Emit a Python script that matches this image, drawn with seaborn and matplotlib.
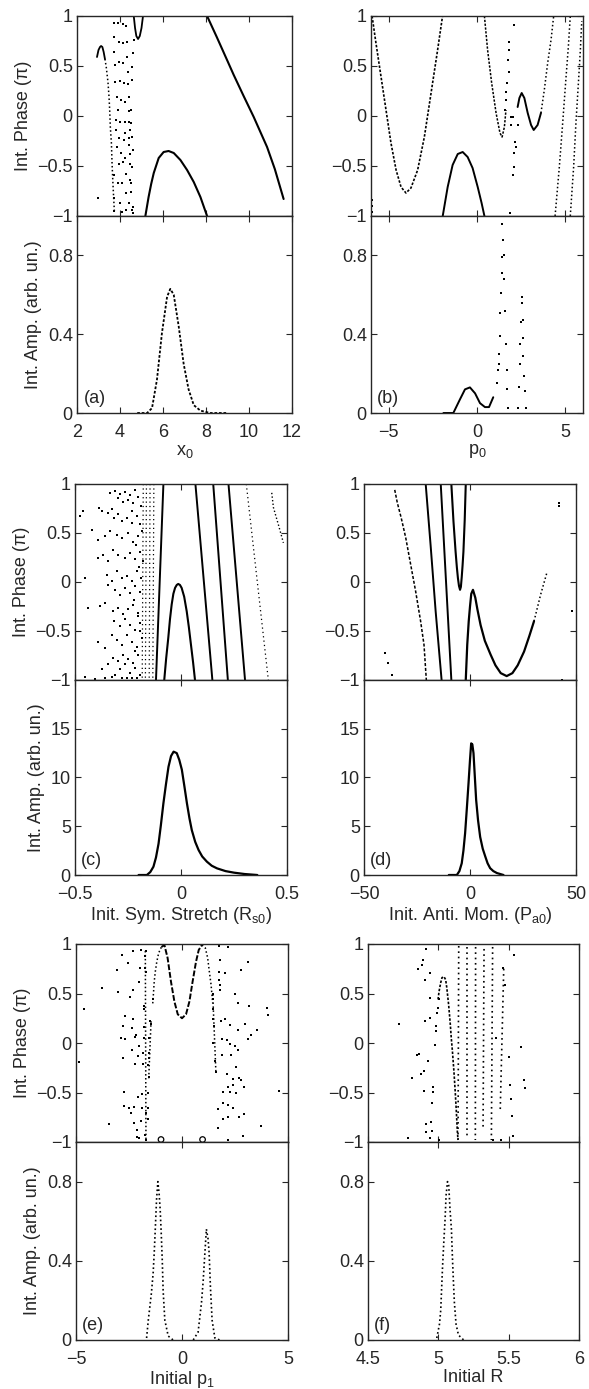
import matplotlib
matplotlib.use("Agg")
import matplotlib.pyplot as plt
import seaborn as sns

sns.set_style("ticks")
plt.rcParams["font.family"] = ["Liberation Sans", "DejaVu Sans"]
plt.rcParams["mathtext.fontset"] = "custom"
plt.rcParams["mathtext.rm"] = "Liberation Sans"
plt.rcParams["mathtext.it"] = "Liberation Sans:italic"
plt.rcParams["axes.linewidth"] = 1.0

# ---------------- (a) x0 ----------------
a_hump_x = [2.93, 3.00, 3.07, 3.12, 3.18, 3.24, 3.30, 3.36, 3.44, 3.49, 3.52, 3.55, 3.60, 3.63, 3.67, 3.71, 3.74]
a_hump_y = [0.59, 0.66, 0.69, 0.70, 0.69, 0.64, 0.57, 0.49, 0.34, 0.19, 0.06, -0.11, -0.27, -0.47, -0.67, -0.84, -0.96]
a_dip_x = [4.64, 4.70, 4.76, 4.84, 4.92, 5.00, 5.07]
a_dip_y = [1.00, 0.88, 0.80, 0.77, 0.80, 0.88, 1.00]
a_arc_x = [5.18, 5.33, 5.45, 5.57, 5.80, 6.03, 6.26, 6.50, 6.81, 7.12, 7.43, 7.74, 8.05]
a_arc_y = [-1.0, -0.81, -0.68, -0.57, -0.42, -0.36, -0.35, -0.37, -0.44, -0.54, -0.66, -0.81, -1.0]
a_line_x = [8.05, 8.50, 9.00, 9.29, 9.75, 10.22, 10.84, 11.20, 11.61]
a_line_y = [1.0, 0.79, 0.55, 0.41, 0.20, -0.01, -0.31, -0.53, -0.83]
a_dots_x = [3.71, 3.89, 4.14, 4.29, 3.74, 3.94, 4.12, 4.33, 3.74, 4.33, 3.94, 4.12, 3.78, 4.36,
            3.78, 3.98, 4.17, 4.37, 3.86, 4.03, 4.22, 4.40, 3.89, 4.40, 3.83, 4.02, 4.22, 4.40,
            3.83, 4.22, 4.45, 3.94, 4.17, 4.40, 3.86, 4.40, 4.06, 4.25, 4.48, 3.94, 4.14, 4.48,
            4.29, 3.71, 3.89, 4.09, 4.48, 4.29, 4.51, 3.74, 4.02, 4.40, 4.29, 4.56, 3.71, 4.09,
            4.60, 4.67, 4.60, 4.56, 4.56, 4.53, 4.51, 4.56, 4.60, 4.56, 4.51, 4.60, 2.96]
a_dots_y = [0.93, 0.93, 0.92, 0.90, 0.79, 0.74, 0.73, 0.74, 0.64, 0.59, 0.54, 0.53, 0.51, 0.44,
            0.34, 0.35, 0.33, 0.32, 0.19, 0.16, 0.14, 0.19, 0.06, 0.05, -0.04, -0.06, -0.06, -0.06,
            -0.14, -0.17, -0.14, -0.22, -0.24, -0.22, -0.31, -0.29, -0.37, -0.42, -0.38, -0.48, -0.46, -0.48,
            -0.58, -0.59, -0.67, -0.67, -0.64, -0.77, -0.76, -0.82, -0.87, -0.87, -0.94, -0.94, -0.95, -0.96,
            -0.97, 0.76, 0.63, 0.49, 0.36, 0.06, -0.07, -0.21, -0.34, -0.51, -0.67, -0.91, -0.82]
a_amp_x = [4.8, 5.26, 5.49, 5.72, 5.95, 6.19, 6.34, 6.50, 6.73, 6.96, 7.19, 7.43, 7.74, 8.2, 9.0]
a_amp_y = [0, 0, 0.025, 0.17, 0.405, 0.59, 0.63, 0.60, 0.44, 0.25, 0.12, 0.04, 0.012, 0, 0]

# ---------------- (b) p0 ----------------
b_u_x = [-5.94, -5.72, -5.43, -5.15, -4.87, -4.58, -4.30, -4.02, -3.74, -3.36, -2.98, -2.60, -2.23, -1.95]
b_u_y = [1.0, 0.73, 0.39, 0.06, -0.27, -0.54, -0.71, -0.77, -0.72, -0.54, -0.21, 0.23, 0.66, 1.0]
b_hump_x = [-1.94, -1.66, -1.38, -1.09, -0.81, -0.53, -0.25, 0.04, 0.26, 0.42]
b_hump_y = [-1.0, -0.71, -0.49, -0.38, -0.36, -0.41, -0.52, -0.71, -0.87, -1.0]
b_v_x = [0.42, 0.60, 0.83, 1.08, 1.30, 1.42, 1.55, 1.64]
b_v_y = [1.0, 0.66, 0.33, 0.03, -0.17, -0.21, -0.11, 0.06]
b_w_x = [2.30, 2.40, 2.53, 2.68, 2.87, 3.06, 3.21, 3.43, 3.62, 3.81, 4.00, 4.19, 4.34]
b_w_y = [0.09, 0.18, 0.23, 0.18, 0.03, -0.09, -0.14, -0.09, 0.03, 0.26, 0.53, 0.76, 1.0]
b_l2_x = [4.42, 4.66, 4.85, 5.04, 5.17, 5.28]
b_l2_y = [-1.0, -0.51, -0.07, 0.39, 0.69, 1.0]
b_l3_x = [5.28, 5.47, 5.60, 5.74, 5.85, 5.93]
b_l3_y = [-1.0, -0.51, -0.07, 0.33, 0.66, 0.95]
b_dots_x = [2.11, 1.79, 1.83, 1.74, 1.79, 1.70, 1.64, 1.62, 1.60, 1.92, 2.02, 1.92, 2.17, 2.21,
            2.11, 2.08, 2.06, 1.89, 2.30, -5.96, -5.96, -5.95]
b_dots_y = [0.91, 0.74, 0.66, 0.56, 0.44, 0.33, 0.24, 0.16, 0.06, -0.01, -0.01, -0.09, -0.26, -0.31,
            -0.37, -0.51, -0.59, -0.97, -0.09, -0.84, -0.90, -0.96]
b_amp_x = [-1.9, -1.34, -0.96, -0.68, -0.40, -0.11, 0.17, 0.45, 0.68, 0.92]
b_amp_y = [0, 0, 0.07, 0.12, 0.13, 0.10, 0.05, 0.03, 0.03, 0.08]
b_spk_x = [1.11, 1.20, 1.24, 1.26, 1.30, 1.33, 1.35, 1.39, 1.43, 1.45, 1.43, 1.52, 1.54, 1.58, 1.62,
           1.67, 1.71, 1.73, 2.33, 2.39, 2.43, 2.46, 2.48, 2.52, 2.56, 2.58, 2.61, 2.63, 2.67, 2.71, 2.75]
b_spk_y = [0.15, 0.22, 0.25, 0.30, 0.39, 0.51, 0.61, 0.71, 0.79, 0.88, 0.96, 0.80, 0.68, 0.52, 0.35,
           0.22, 0.12, 0.025, 0.025, 0.13, 0.25, 0.35, 0.46, 0.59, 0.56, 0.47, 0.38, 0.29, 0.19, 0.11, 0.025]

# ---------------- (c) Rs0 ----------------
c_arc_x = [-0.079, -0.07, -0.06, -0.052, -0.044, -0.036, -0.028, -0.02, -0.013, -0.005, 0.003,
           0.015, 0.027, 0.037, 0.047, 0.057, 0.066]
c_arc_y = [-1.0, -0.78, -0.57, -0.38, -0.23, -0.12, -0.06, -0.03, -0.02, -0.03, -0.06,
           -0.15, -0.30, -0.46, -0.64, -0.82, -1.0]
# straight branches: x at phase = 1, x at phase = -1
c_solid_top = [-0.083, 0.068, 0.152, 0.224]
c_solid_bot = [-0.118, 0.148, 0.221, 0.302]
c_dash_top = [-0.178, -0.163, -0.146, -0.128, 0.308]
c_dash_bot = [-0.183, -0.168, -0.150, -0.133, 0.412]
c_tail_x = [0.428, 0.436, 0.46, 0.483]
c_tail_y = [0.91, 0.76, 0.58, 0.40]
c_dots_x = [-0.335, -0.311, -0.288, -0.264, -0.241, -0.217, -0.201, -0.296, -0.272, -0.248, -0.225,
            -0.476, -0.461, -0.421, -0.387, -0.374, -0.343, -0.327, -0.314, -0.296, -0.277, -0.256, -0.233, -0.209, -0.193,
            -0.39, -0.358, -0.335, -0.303, -0.28, -0.248, -0.225, -0.201, -0.186,
            -0.393, -0.366, -0.343, -0.319, -0.296, -0.264, -0.241, -0.217, -0.193, -0.178,
            -0.453, -0.351, -0.327, -0.303, -0.28, -0.256, -0.233, -0.209, -0.189,
            -0.343, -0.311, -0.288, -0.264, -0.241, -0.217, -0.193,
            -0.437, -0.382, -0.358, -0.319, -0.296, -0.272, -0.248, -0.225, -0.201,
            -0.314, -0.288, -0.264, -0.241, -0.217, -0.193,
            -0.39, -0.358, -0.327, -0.303, -0.28, -0.256, -0.233, -0.209, -0.186,
            -0.319, -0.296, -0.272, -0.248, -0.225, -0.201,
            -0.374, -0.343, -0.311, -0.288, -0.264, -0.241, -0.217, -0.193,
            -0.453, -0.406, -0.358, -0.327, -0.28, -0.256, -0.233, -0.209,
            -0.23, -0.21, -0.2, -0.22, -0.205, -0.195, -0.215, -0.19]
c_dots_y = [0.91, 0.93, 0.90, 0.92, 0.89, 0.94, 0.87, 0.86, 0.82, 0.84, 0.81,
            0.67, 0.72, 0.53, 0.76, 0.72, 0.70, 0.74, 0.65, 0.69, 0.62, 0.65, 0.72, 0.67, 0.59,
            0.43, 0.47, 0.52, 0.48, 0.45, 0.50, 0.41, 0.47, 0.52,
            0.24, 0.28, 0.21, 0.33, 0.28, 0.24, 0.30, 0.23, 0.31, 0.21,
            0.04, 0.07, 0.01, 0.11, 0.04, 0.06, 0.01, 0.11, 0.04,
            -0.03, -0.08, -0.13, -0.06, -0.11, -0.04, -0.10,
            -0.27, -0.25, -0.21, -0.30, -0.27, -0.33, -0.28, -0.23, -0.32,
            -0.40, -0.45, -0.38, -0.44, -0.49, -0.42,
            -0.61, -0.67, -0.54, -0.59, -0.64, -0.54, -0.61, -0.66, -0.57,
            -0.78, -0.81, -0.74, -0.79, -0.83, -0.74,
            -0.89, -0.84, -0.95, -0.89, -0.84, -0.93, -0.88, -0.95,
            -0.97, -0.99, -0.98, -0.97, -0.98, -0.98, -0.98, -0.98,
            0.60, 0.38, 0.15, -0.18, -0.35, -0.50, -0.70, 0.78]
c_amp_x = [-0.2, -0.161, -0.145, -0.13, -0.118, -0.106, -0.095, -0.083, -0.071, -0.059, -0.047, -0.035,
           -0.02, -0.008, 0.004, 0.016, 0.028, 0.04, 0.051, 0.067, 0.083, 0.10, 0.122, 0.145, 0.17,
           0.21, 0.25, 0.30, 0.36]
c_amp_y = [0, 0, 0.3, 0.85, 1.8, 3.2, 5.1, 7.35, 9.3, 11.1, 12.2, 12.65,
           12.5, 11.8, 10.8, 9.1, 7.35, 5.8, 4.6, 3.4, 2.56, 1.9, 1.37, 0.95, 0.68,
           0.4, 0.24, 0.1, 0]

# ---------------- (d) Pa0 ----------------
d_l1_x = [-35.5, -34.3, -32.4, -30.3, -28.0, -25.6, -23.3, -21.7, -20.6]
d_l1_y = [0.94, 0.81, 0.65, 0.45, 0.18, -0.10, -0.40, -0.64, -1.0]
d_l2_x = [-20.9, -18.6, -16.2, -13.4]
d_l2_y = [1.0, 0.38, -0.30, -1.0]
d_l3_x = [-13.8, -11.3, -8.8]
d_l3_y = [1.0, 0.0, -1.0]
d_v_x = [-8.8, -7.8, -6.8, -6.2, -5.7, -5.2, -4.7, -4.3, -3.9, -3.5, -3.1, -2.5, -2.0]
d_v_y = [1.0, 0.62, 0.31, 0.15, 0.04, -0.04, -0.08, -0.05, 0.05, 0.17, 0.31, 0.63, 1.0]
d_hump_x = [-2.0, -1.3, -0.6, 0.0, 0.6, 1.4, 2.5, 3.5, 5.0, 7.0, 9.7, 12.0, 14.5, 17.3, 20.0,
            22.5, 25.5, 28.0, 30.2]
d_hump_y = [-1.0, -0.64, -0.40, -0.25, -0.12, -0.08, -0.16, -0.28, -0.44, -0.60, -0.74, -0.85, -0.93,
            -0.96, -0.93, -0.85, -0.71, -0.55, -0.40]
d_tail_x = [30.2, 33.3, 36.2]
d_tail_y = [-0.40, -0.13, 0.09]
d_dots_x = [42.0, 42.0, -40.3, -38.7, -36.6, 43.6, 48.3]
d_dots_y = [0.81, 0.78, -0.72, -0.83, -0.95, -1.0, -0.30]
d_amp_x = [-10, -6.2, -5.0, -3.9, -3.1, -2.3, -1.5, -0.7, 0.0, 0.55, 1.1, 1.65, 2.3, 2.9, 3.8, 4.8,
           6.0, 7.2, 8.3, 9.5, 11.0, 12.7, 15.8]
d_amp_y = [0, 0, 0.4, 1.2, 2.5, 4.3, 6.8, 9.4, 11.8, 13.5, 13.4, 12.5, 10.0, 7.7, 5.6, 3.9,
           2.7, 1.9, 1.2, 0.7, 0.4, 0.2, 0]

# ---------------- (e) p1 ----------------
e_curve_x = [-1.38, -1.35, -1.31, -1.26, -1.19, -1.10, -0.97, -0.83, -0.68, -0.52, -0.36, -0.20, 0.0,
             0.19, 0.35, 0.50, 0.66, 0.79, 0.94, 1.10, 1.21, 1.29, 1.37, 1.45]
e_curve_y = [0.40, 0.49, 0.62, 0.72, 0.82, 0.91, 0.97, 0.99, 0.86, 0.62, 0.42, 0.29, 0.25,
             0.29, 0.42, 0.62, 0.82, 0.94, 0.99, 0.96, 0.86, 0.72, 0.59, 0.40]
e_ring_x = [-0.99, 0.97]
e_ring_y = [-0.975, -0.975]
e_col_top = [(-1.73, 0.93), (-1.46, 0.22), (1.45, 0.49)]
e_col_bot = [(-1.70, -0.98), (-1.57, -0.36), (1.60, -0.30)]
e_dots_x = [-2.83, -2.30, -1.93, -1.70, -1.73, -2.56, -3.08, -1.98, -1.73, -1.70, -2.01, -3.77, -3.03,
            -2.33, -2.45, -1.38, -4.61, -1.78, -1.78, -2.67, -2.33, -1.51, -2.80, -2.36, -1.78, -1.46,
            -2.17, -2.20, -2.88, -2.67, -1.78, -1.54, -2.36, -2.04, -1.86, -1.54, -2.80, -2.09, -1.54,
            -4.87, -2.20, -1.86, -1.62, -1.57, -2.72, -2.09, -1.89, -1.62, -2.72, -2.48, -2.41, -2.25,
            -1.89, -1.62, -1.70, -3.43, -2.25, -1.93, -1.62, -2.14, -2.14, -2.01, -1.73, -1.70,
            1.76, 2.15, 1.79, 3.13, 2.78, 1.76, 2.03, 1.76, 1.79, 1.79, 2.50, 1.45, 1.45, 2.63, 3.14,
            3.99, 4.07, 1.48, 1.84, 2.03, 2.26, 2.63, 2.97, 3.54, 1.48, 1.53, 3.25, 3.10, 1.87, 2.11,
            2.26, 1.48, 2.52, 2.64, 1.89, 2.33, 1.57, 2.55, 2.12, 2.39, 2.67, 2.78, 1.60, 2.42, 2.92,
            1.92, 2.15, 2.26, 2.55, 4.56, 1.95, 2.15, 2.42, 1.68, 2.94, 1.95, 2.15, 2.67, 1.71, 3.73,
            2.86, 2.15]
e_dots_y = [0.89, 0.93, 0.94, 0.93, 0.88, 0.81, 0.74, 0.76, 0.76, 0.72, 0.62, 0.56, 0.52,
            0.54, 0.46, 0.44, 0.34, 0.37, 0.34, 0.27, 0.24, 0.22, 0.17, 0.15, 0.16, 0.19,
            0.08, 0.06, 0.05, 0.04, 0.05, 0.05, -0.07, -0.03, -0.10, -0.10, -0.15, -0.13, -0.15,
            -0.19, -0.21, -0.21, -0.22, -0.34, -0.49, -0.55, -0.52, -0.51, -0.64, -0.66, -0.71, -0.65,
            -0.66, -0.66, -0.71, -0.82, -0.81, -0.79, -0.77, -0.88, -0.95, -0.96, -0.93, -0.98,
            0.98, 0.97, 0.84, 0.82, 0.74, 0.72, 0.71, 0.64, 0.59, 0.54, 0.49, 0.49, 0.44, 0.40, 0.37,
            0.35, 0.28, 0.34, 0.22, 0.24, 0.18, 0.13, 0.19, 0.13, 0.24, 0.17, 0.08, 0.04, 0.04, 0.03,
            -0.01, 0.0, -0.03, -0.07, -0.12, -0.12, -0.18, -0.24, -0.31, -0.36, -0.35, -0.37, -0.29, -0.42, -0.44,
            -0.49, -0.44, -0.49, -0.50, -0.48, -0.61, -0.63, -0.66, -0.67, -0.72, -0.77, -0.75, -0.75, -0.86, -0.84,
            -0.94, -0.98]
e_amp1_x = [-1.67, -1.59, -1.44, -1.36, -1.31, -1.26, -1.20, -1.14, -1.08, -1.03, -0.98, -0.93, -0.89, -0.81, -0.65, -0.42]
e_amp1_y = [0.01, 0.10, 0.24, 0.34, 0.44, 0.56, 0.71, 0.80, 0.74, 0.66, 0.54, 0.40, 0.25, 0.10, 0.02, 0]
e_amp2_x = [0.53, 0.76, 0.92, 1.0, 1.08, 1.15, 1.23, 1.28, 1.34, 1.42, 1.55, 1.78]
e_amp2_y = [0, 0.04, 0.19, 0.30, 0.44, 0.56, 0.51, 0.44, 0.27, 0.10, 0.01, 0]

# ---------------- (f) R ----------------
f_hump_x = [4.998, 5.005, 5.017, 5.026, 5.04, 5.052, 5.06, 5.073, 5.085, 5.092, 5.10, 5.111, 5.12, 5.128, 5.135, 5.14]
f_hump_y = [0.44, 0.52, 0.61, 0.66, 0.67, 0.64, 0.56, 0.39, 0.19, 0.05, -0.08, -0.29, -0.49, -0.69, -0.89, -0.98]
f_col_top = [(5.145, 0.98), (5.206, 0.97), (5.265, 0.97), (5.325, 0.95), (5.386, 0.97), (5.465, 0.75)]
f_col_bot = [(5.140, -0.98), (5.206, -0.96), (5.263, -0.98), (5.318, -0.85), (5.377, -0.98), (5.440, -0.68)]
f_dots_x = [4.915, 4.891, 4.884, 4.855, 4.943, 4.908, 4.938, 4.998, 4.938, 4.903, 4.718, 4.986, 4.986,
            4.974, 5.59, 4.86, 4.851, 4.927, 5.50, 4.813, 4.874, 4.898, 4.962, 4.898, 4.964, 4.955,
            4.915, 4.95, 4.915, 4.955, 4.784, 4.938, 5.005, 5.536, 5.46, 5.472, 5.412, 5.507, 5.519,
            5.524, 5.609, 5.614, 5.389, 5.448, 5.531, 5.005, 4.99]
f_dots_y = [0.95, 0.84, 0.79, 0.75, 0.71, 0.64, 0.45, 0.35, 0.25, 0.22, 0.19, 0.17, 0.12,
            -0.02, -0.04, -0.11, -0.12, -0.18, -0.14, -0.35, -0.31, -0.28, -0.44, -0.48, -0.49, -0.61,
            -0.82, -0.80, -0.90, -0.89, -0.96, -0.96, -0.98, 0.89, 0.76, 0.59, 0.05, -0.42, -0.57,
            -0.74, -0.37, -0.45, -0.98, -0.98, -0.94, 0.44, 0.30]
f_amp_x = [4.989, 5.008, 5.017, 5.024, 5.03, 5.04, 5.048, 5.055, 5.065, 5.074, 5.083, 5.093, 5.10, 5.107, 5.114, 5.126, 5.143, 5.18]
f_amp_y = [0.01, 0.08, 0.15, 0.27, 0.37, 0.51, 0.61, 0.73, 0.80, 0.78, 0.66, 0.56, 0.42, 0.30, 0.19, 0.08, 0.025, 0]

# ---------------- layout (pixels) ----------------
W, H = 589, 1389
rows = [(16, 216, 413), (484, 680, 875), (944, 1142, 1340)]
cols = [((77, 292), (371, 583)), ((75, 287), (364, 576)), ((76, 288), (368, 579))]
DOT = (0, (1, 1.6))
FS = 13

fig = plt.figure(figsize=(W / 100, H / 100), dpi=100)


def box(x0, x1, y0, y1):
    return [x0 / W, 1 - y1 / H, (x1 - x0) / W, (y1 - y0) / H]


def pair(r, c):
    top, mid, bot = rows[r]
    x0, x1 = cols[r][c]
    ph = fig.add_axes(box(x0, x1, top, mid))
    amp = fig.add_axes(box(x0, x1, mid, bot))
    return ph, amp


def curve(ax, x, y, lw=1.5, ls="-"):
    sns.lineplot(x=x, y=y, ax=ax, sort=False, estimator=None, errorbar=None,
                 color="k", lw=lw, linestyle=ls, legend=False)


def dots(ax, x, y, s=4):
    sns.scatterplot(x=x, y=y, ax=ax, color="k", s=s, marker="s", linewidth=0, legend=False)


def columns(ax, tops, bots, lw=1.1, ls=DOT):
    for (xt, yt), (xb, yb) in zip(tops, bots):
        curve(ax, [xt, xb], [yt, yb], lw=lw, ls=ls)


def finish(ph, amp, xlim, xticks, ylim, yticks, xlabel, tag, left):
    for ax in (ph, amp):
        ax.set_xlim(*xlim)
        ax.set_xticks(xticks)
        ax.tick_params(direction="in", top=True, right=True, length=4, width=0.8,
                       labelsize=FS, pad=3)
        for sp in ax.spines.values():
            sp.set_linewidth(1.0)
        ax.set_xlabel("")
        ax.set_ylabel("")
    ph.set_ylim(-1, 1)
    ph.set_yticks([-1, -0.5, 0, 0.5, 1])
    ph.set_yticklabels(["\u22121", "\u22120.5", "0", "0.5", "1"])
    ph.tick_params(labelbottom=False)
    amp.set_ylim(*ylim)
    amp.set_yticks(yticks)
    amp.set_yticklabels([f"{t:g}" for t in yticks])
    amp.set_xticklabels([f"{t:g}".replace("-", "\u2212") for t in xticks])
    amp.tick_params(axis="x", pad=8)
    amp.set_xlabel(xlabel, fontsize=FS, labelpad=1)
    if left:
        ph.set_ylabel("Int. Phase (\u03c0)", fontsize=FS)
        amp.set_ylabel("Int. Amp. (arb. un.)", fontsize=FS)
    amp.text(0.03, 0.03, tag, transform=amp.transAxes, fontsize=FS, va="bottom", ha="left")


# (a)
ph, amp = pair(0, 0)
curve(ph, a_hump_x[:7], a_hump_y[:7], lw=1.3)
curve(ph, a_hump_x[6:], a_hump_y[6:], lw=1.1, ls=DOT)
curve(ph, a_dip_x, a_dip_y, lw=1.3)
curve(ph, a_arc_x, a_arc_y, lw=1.5)
curve(ph, a_line_x, a_line_y, lw=1.5)
dots(ph, a_dots_x, a_dots_y)
curve(amp, a_amp_x, a_amp_y, lw=1.3, ls=(0, (1.5, 1)))
finish(ph, amp, (2, 12), [2, 4, 6, 8, 10, 12], (0, 1), [0, 0.4, 0.8], "x$_0$", "(a)", True)

# (b)
ph, amp = pair(0, 1)
curve(ph, b_u_x, b_u_y, lw=1.2, ls=(0, (1.5, 1)))
curve(ph, b_hump_x, b_hump_y, lw=1.4)
curve(ph, b_v_x, b_v_y, lw=1.1, ls=(0, (1.5, 1)))
curve(ph, b_w_x[:9], b_w_y[:9], lw=1.4)
curve(ph, b_w_x[8:], b_w_y[8:], lw=1.1, ls=DOT)
curve(ph, b_l2_x, b_l2_y, lw=1.1, ls=DOT)
curve(ph, b_l3_x, b_l3_y, lw=1.1, ls=DOT)
dots(ph, b_dots_x, b_dots_y)
curve(amp, b_amp_x, b_amp_y, lw=1.4)
dots(amp, b_spk_x, b_spk_y)
finish(ph, amp, (-6, 6), [-5, 0, 5], (0, 1), [0, 0.4, 0.8], "p$_0$", "(b)", False)

# (c)
ph, amp = pair(1, 0)
curve(ph, c_arc_x, c_arc_y, lw=1.5)
for xt, xb in zip(c_solid_top, c_solid_bot):
    curve(ph, [xt, xb], [1.0, -1.0], lw=1.4)
for xt, xb in zip(c_dash_top, c_dash_bot):
    curve(ph, [xt, xb], [1.0, -1.0], lw=0.9, ls=(0, (1, 2.5)))
curve(ph, c_tail_x, c_tail_y, lw=1.0, ls=DOT)
dots(ph, c_dots_x, c_dots_y)
curve(amp, c_amp_x, c_amp_y, lw=1.6)
finish(ph, amp, (-0.5, 0.5), [-0.5, 0, 0.5], (0, 20), [0, 5, 10, 15],
       "Init. Sym. Stretch (R$_{\\mathrm{s0}}$)", "(c)", True)

# (d)
ph, amp = pair(1, 1)
curve(ph, d_l1_x, d_l1_y, lw=1.1, ls=(0, (2, 1.2)))
curve(ph, d_l2_x, d_l2_y, lw=1.4)
curve(ph, d_l3_x, d_l3_y, lw=1.4)
curve(ph, d_v_x, d_v_y, lw=1.5)
curve(ph, d_hump_x, d_hump_y, lw=1.6)
curve(ph, d_tail_x, d_tail_y, lw=1.1, ls=DOT)
dots(ph, d_dots_x, d_dots_y)
curve(amp, d_amp_x, d_amp_y, lw=1.6)
finish(ph, amp, (-50, 50), [-50, 0, 50], (0, 20), [0, 5, 10, 15],
       "Init. Anti. Mom. (P$_{\\mathrm{a0}}$)", "(d)", False)

# (e)
ph, amp = pair(2, 0)
curve(ph, e_curve_x[:7], e_curve_y[:7], lw=1.1, ls=DOT)
curve(ph, e_curve_x[6:19], e_curve_y[6:19], lw=1.4, ls=(0, (3, 1)))
curve(ph, e_curve_x[18:], e_curve_y[18:], lw=1.1, ls=DOT)
columns(ph, e_col_top, e_col_bot)
dots(ph, e_dots_x, e_dots_y)
sns.scatterplot(x=e_ring_x, y=e_ring_y, ax=ph, marker="o", s=16, facecolor="none",
                edgecolor="k", linewidth=0.9, legend=False)
curve(amp, e_amp1_x, e_amp1_y, lw=1.2, ls=DOT)
curve(amp, e_amp2_x, e_amp2_y, lw=1.2, ls=DOT)
finish(ph, amp, (-5, 5), [-5, 0, 5], (0, 1), [0, 0.4, 0.8], "Initial p$_1$", "(e)", True)

# (f)
ph, amp = pair(2, 1)
curve(ph, f_hump_x, f_hump_y, lw=1.2, ls=(0, (1.5, 1)))
columns(ph, f_col_top, f_col_bot, lw=1.2, ls=(0, (1, 2.2)))
dots(ph, f_dots_x, f_dots_y)
curve(amp, f_amp_x, f_amp_y, lw=1.2, ls=DOT)
finish(ph, amp, (4.5, 6), [4.5, 5, 5.5, 6], (0, 1), [0, 0.4, 0.8], "Initial R", "(f)", False)

fig.savefig("out.png", dpi=100)
